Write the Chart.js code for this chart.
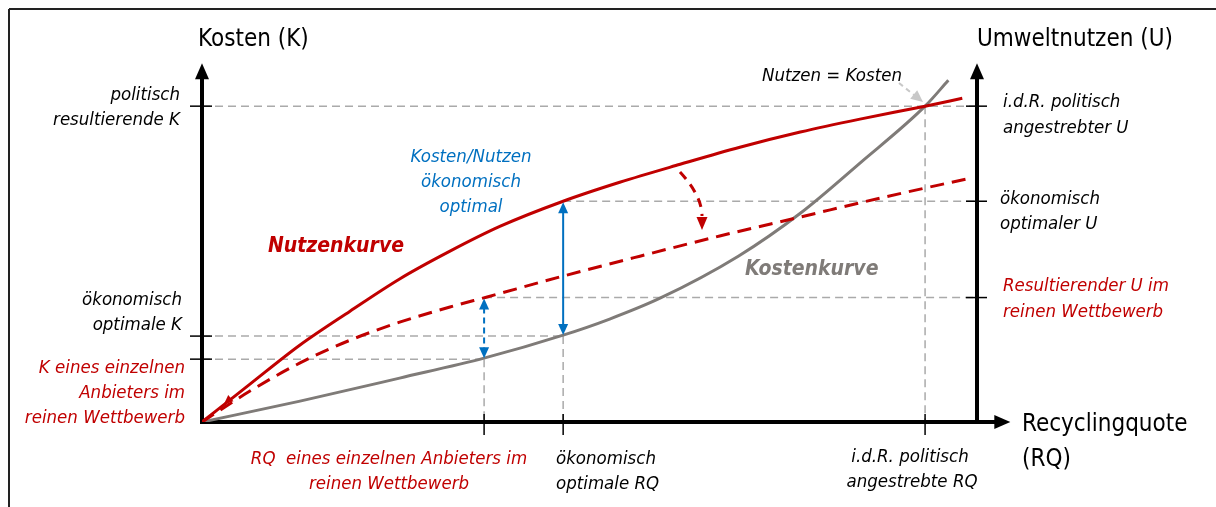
<!DOCTYPE html>
<html>
<head>
<meta charset="utf-8">
<script src="https://cdn.jsdelivr.net/npm/chart.js@4"></script>
<style>
  body { margin: 0; background: #fff; }
  canvas { display: block; }
</style>
</head>
<body>
<canvas id="myChart" width="1216" height="507"></canvas>
<script>
// curves (x = Recyclingquote, y = Kosten / Nutzen)
const nutzenX = [0, 6.19, 12.65, 19.1, 25.5, 32.0, 38.5, 46.6, 53.9, 61.7, 69.4, 77.2, 84.9, 93.3, 98.1];
const nutzenY = [0, 12.0, 24.4, 35.1, 45.3, 54.1, 62.0, 69.9, 75.9, 81.6, 87.0, 91.8, 95.9, 100, 102.5];
const wettbewerbX = [0, 6.19, 12.65, 19.1, 25.5, 32.0, 36.8, 46.6, 56.5, 66.8, 77.2, 87.5, 99.1];
const wettbewerbY = [0, 9.8, 18.7, 25.9, 31.6, 36.4, 39.6, 46.2, 52.5, 58.9, 64.9, 70.9, 77.2];
const kostenX = [0, 12.65, 25.5, 36.5, 46.6, 52.6, 59.1, 69.2, 77.2, 84.9, 93.3, 96.3];
const kostenY = [0, 6.6, 13.9, 20.3, 27.5, 32.6, 39.2, 52.5, 66.1, 82.0, 100, 108.2];

// marked positions: [einzelner Anbieter, oekonomisch optimal, politisch]
const rqTicks = [36.4, 46.6, 93.3];
const kTicks = [19.9, 27.2, 100];
const uTicks = [39.4, 69.9, 100];
const uAxisAt = 100;

const RED = "#c00000";
const GRAY = "#7f7b78";
const BLUE = "#0070c0";
const DASH = "#aaaaaa";
const FONT = '"DejaVu Sans Condensed", "Liberation Sans Narrow", sans-serif';

const toPoints = (xs, ys) => xs.map((x, i) => ({ x: x, y: ys[i] }));

const arrowHead = (ctx, x, y, angle, len, w, color) => {
  ctx.save();
  ctx.translate(x, y);
  ctx.rotate(angle);
  ctx.fillStyle = color;
  ctx.beginPath();
  ctx.moveTo(0, 0);
  ctx.lineTo(-len, -w / 2);
  ctx.lineTo(-len, w / 2);
  ctx.closePath();
  ctx.fill();
  ctx.restore();
};

const line = (ctx, x1, y1, x2, y2, color, width, dash) => {
  ctx.save();
  ctx.strokeStyle = color;
  ctx.lineWidth = width;
  ctx.setLineDash(dash || []);
  ctx.beginPath();
  ctx.moveTo(x1, y1);
  ctx.lineTo(x2, y2);
  ctx.stroke();
  ctx.restore();
};

const text = (ctx, str, x, y, font, color, align) => {
  ctx.font = font;
  ctx.fillStyle = color;
  ctx.textAlign = align || "left";
  ctx.textBaseline = "middle";
  ctx.fillText(str, x, y);
};

const diagram = {
  id: "diagram",
  beforeDatasetsDraw(chart) {
    const ctx = chart.ctx;
    const xs = chart.scales.x, ys = chart.scales.y;
    const px = (v) => xs.getPixelForValue(v);
    const py = (v) => ys.getPixelForValue(v);

    // frame
    line(ctx, 9, 9, 1216, 9, "#222", 2);
    line(ctx, 9, 9, 9, 507, "#222", 2);

    const d = [8, 5];
    // horizontal guides
    line(ctx, px(0), py(kTicks[2]), px(uAxisAt), py(kTicks[2]), DASH, 1.5, d);
    line(ctx, px(0), py(kTicks[1]), px(rqTicks[1]), py(kTicks[1]), DASH, 1.5, d);
    line(ctx, px(0), py(kTicks[0]), px(rqTicks[0]), py(kTicks[0]), DASH, 1.5, d);
    line(ctx, px(rqTicks[1]), py(uTicks[1]), px(uAxisAt), py(uTicks[1]), DASH, 1.5, d);
    line(ctx, px(rqTicks[0]), py(uTicks[0]), px(uAxisAt), py(uTicks[0]), DASH, 1.5, d);
    // vertical guides
    line(ctx, px(rqTicks[2]), py(kTicks[2]), px(rqTicks[2]), py(0), DASH, 1.5, d);
    line(ctx, px(rqTicks[1]), py(kTicks[1]), px(rqTicks[1]), py(0), DASH, 1.5, d);
    line(ctx, px(rqTicks[0]), py(kTicks[0]), px(rqTicks[0]), py(0), DASH, 1.5, d);

    // axes
    const top = py(113.6);
    line(ctx, px(0), py(0), px(0), top + 12, "#000", 4);
    arrowHead(ctx, px(0), top, -Math.PI / 2, 16, 14, "#000");
    line(ctx, px(uAxisAt), py(0), px(uAxisAt), top + 12, "#000", 4);
    arrowHead(ctx, px(uAxisAt), top, -Math.PI / 2, 16, 14, "#000");
    line(ctx, px(0) - 2, py(0), px(104.3) - 12, py(0), "#000", 4);
    arrowHead(ctx, px(104.3), py(0), 0, 16, 14, "#000");

    // ticks
    kTicks.forEach((k) => line(ctx, px(0) - 12, py(k), px(0) + 10, py(k), "#000", 1.5));
    uTicks.forEach((u) => line(ctx, px(uAxisAt) - 11, py(u), px(uAxisAt) + 10, py(u), "#000", 1.5));
    rqTicks.forEach((r) => line(ctx, px(r), py(0) - 8, px(r), py(0) + 13, "#000", 1.5));
  },
  afterDatasetsDraw(chart) {
    const ctx = chart.ctx;
    const xs = chart.scales.x, ys = chart.scales.y;
    const px = (v) => xs.getPixelForValue(v);
    const py = (v) => ys.getPixelForValue(v);

    // blue double arrows
    const a = px(rqTicks[1]);
    line(ctx, a, py(uTicks[1]) + 10, a, py(kTicks[1]) - 10, BLUE, 2);
    arrowHead(ctx, a, py(uTicks[1]) + 1, -Math.PI / 2, 11, 10, BLUE);
    arrowHead(ctx, a, py(kTicks[1]) - 1, Math.PI / 2, 11, 10, BLUE);
    const b = px(rqTicks[0]);
    line(ctx, b, py(uTicks[0]) + 10, b, py(kTicks[0]) - 10, BLUE, 2, [6, 4]);
    arrowHead(ctx, b, py(uTicks[0]) + 1, -Math.PI / 2, 11, 10, BLUE);
    arrowHead(ctx, b, py(kTicks[0]) - 1, Math.PI / 2, 11, 10, BLUE);

    // red shift arrow
    ctx.save();
    ctx.strokeStyle = RED;
    ctx.lineWidth = 3;
    ctx.setLineDash([9, 7]);
    ctx.beginPath();
    ctx.moveTo(680, 172);
    ctx.quadraticCurveTo(702, 196, 702, 216);
    ctx.stroke();
    ctx.restore();
    arrowHead(ctx, 702, 230, Math.PI / 2, 13, 11, RED);
    arrowHead(ctx, 224, 404, Math.atan2(12, -14), 9, 8, RED);

    // Nutzen = Kosten pointer
    line(ctx, 899, 83, 914, 95, "#c8c8c8", 2, [5, 4]);
    arrowHead(ctx, 923, 102, Math.atan2(9, 11), 12, 11, "#c8c8c8");

    const it = "italic 18.5px " + FONT;
    const head = "24px " + FONT;
    // headings
    text(ctx, "Kosten (K)", 198, 40, head, "#000");
    text(ctx, "Umweltnutzen (U)", 977, 40, head, "#000");
    text(ctx, "Recyclingquote", 1022, 425, head, "#000");
    text(ctx, "(RQ)", 1022, 460, head, "#000");

    // left labels
    text(ctx, "politisch", 180, 95, it, "#000", "right");
    text(ctx, "resultierende K", 180, 120, it, "#000", "right");
    text(ctx, "ökonomisch", 182, 300, it, "#000", "right");
    text(ctx, "optimale K", 182, 325, it, "#000", "right");
    text(ctx, "K eines einzelnen", 185, 368, it, RED, "right");
    text(ctx, "Anbieters im", 185, 393, it, RED, "right");
    text(ctx, "reinen Wettbewerb", 185, 418, it, RED, "right");

    // right labels
    text(ctx, "i.d.R. politisch", 1003, 102, it, "#000");
    text(ctx, "angestrebter U", 1003, 128, it, "#000");
    text(ctx, "ökonomisch", 1000, 199, it, "#000");
    text(ctx, "optimaler U", 1000, 224, it, "#000");
    text(ctx, "Resultierender U im", 1003, 286, it, RED);
    text(ctx, "reinen Wettbewerb", 1003, 312, it, RED);

    // bottom labels
    text(ctx, "RQ  eines einzelnen Anbieters im", 389, 459, it, RED, "center");
    text(ctx, "reinen Wettbewerb", 389, 484, it, RED, "center");
    text(ctx, "ökonomisch", 556, 459, it, "#000");
    text(ctx, "optimale RQ", 556, 484, it, "#000");
    text(ctx, "i.d.R. politisch", 910, 457, it, "#000", "center");
    text(ctx, "angestrebte RQ", 912, 482, it, "#000", "center");

    // annotations
    text(ctx, "Nutzen = Kosten", 762, 76, it, "#000");
    text(ctx, "Kosten/Nutzen", 471, 157, it, BLUE, "center");
    text(ctx, "ökonomisch", 471, 182, it, BLUE, "center");
    text(ctx, "optimal", 471, 207, it, BLUE, "center");
    text(ctx, "Nutzenkurve", 268, 247, "italic bold 21px " + FONT, RED);
    text(ctx, "Kostenkurve", 745, 270, "italic bold 21px " + FONT, GRAY);
  },
};

new Chart(document.getElementById("myChart").getContext("2d"), {
  type: "line",
  data: {
    datasets: [
      {
        label: "Nutzenkurve",
        data: toPoints(nutzenX, nutzenY),
        borderColor: RED,
        borderWidth: 3,
      },
      {
        label: "Nutzen im Wettbewerb",
        data: toPoints(wettbewerbX, wettbewerbY),
        borderColor: RED,
        borderWidth: 3,
        borderDash: [14, 8],
      },
      {
        label: "Kostenkurve",
        data: toPoints(kostenX, kostenY),
        borderColor: GRAY,
        borderWidth: 3,
      },
    ],
  },
  options: {
    responsive: false,
    animation: false,
    elements: {
      point: { radius: 0 },
      line: { cubicInterpolationMode: "monotone", fill: false },
    },
    layout: { padding: { left: 202, right: 161.5, top: 43, bottom: 85 } },
    scales: {
      x: { type: "linear", min: 0, max: 110, display: false },
      y: { type: "linear", min: 0, max: 120, display: false },
    },
    plugins: {
      legend: { display: false },
      tooltip: { enabled: false },
    },
  },
  plugins: [diagram],
});
</script>
</body>
</html>
